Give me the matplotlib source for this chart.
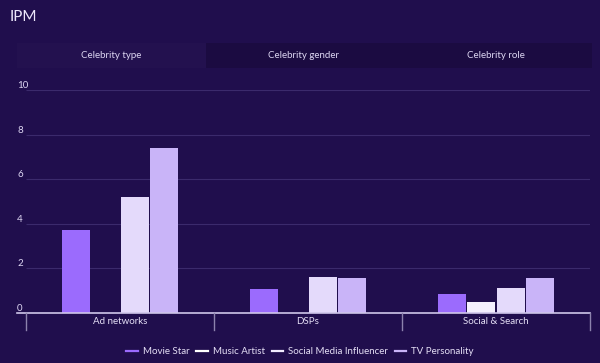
import matplotlib.pyplot as plt
import matplotlib.patches as patches
from matplotlib.lines import Line2D
import numpy as np

plt.rcParams['font.family'] = ['Lato', 'DejaVu Sans']

# Data
channels = ['Ad networks', 'DSPs', 'Social & Search']
series_names = ['Movie Star', 'Music Artist', 'Social Media Influencer', 'TV Personality']
movie_star = [3.7, 1.08, 0.85]
music_artist = [0, 0, 0.5]
social_influencer = [5.18, 1.62, 1.12]
tv_personality = [7.38, 1.58, 1.55]
y_ticks = [0, 2, 4, 6, 8, 10]
tabs = ['Celebrity type', 'Celebrity gender', 'Celebrity role']

bar_colors = ['#9b6bfd', '#f4effe', '#e4dafb', '#c9b4f8']
legend_colors = ['#9b6bfd', '#ffffff', '#f1ecfd', '#c9b4f8']
bg = '#200e4d'

fig = plt.figure(figsize=(6, 3.63), dpi=100, facecolor=bg)

# Title
fig.text(10 / 600, 1 - 17 / 363, 'IPM', color='#ece6fb', fontsize=11, va='center', ha='left')

# Tabs bar
tab_edges = [17, 206, 400, 592]
tab_colors = ['#23114f', '#1b0b41', '#1b0b41']
for i, name in enumerate(tabs):
    x0 = tab_edges[i] / 600
    w = (tab_edges[i + 1] - tab_edges[i]) / 600
    fig.patches.append(patches.Rectangle((x0, 1 - 68 / 363), w, 25 / 363,
                                         transform=fig.transFigure, facecolor=tab_colors[i],
                                         edgecolor='none', zorder=0))
    fig.text(x0 + w / 2, 1 - 55 / 363, name, color='#ddd6f2', fontsize=7,
             ha='center', va='center')

ax = fig.add_axes([17 / 600, 1 - 313 / 363, 573 / 600, 223 / 363])
ax.set_facecolor(bg)

x = np.arange(len(channels))
values = [movie_star, music_artist, social_influencer, tv_personality]
bw = 0.155
for i, vals in enumerate(values):
    ax.bar(x + (i - 1.5) * bw, vals, width=bw * 0.96, color=bar_colors[i], zorder=2)

ax.set_xlim(-0.548, 2.5)
ax.set_ylim(0, 10)

# gridlines and y labels
for v in y_ticks[1:]:
    ax.hlines(v, -0.5, 2.5, color='#3b2a6c', lw=0.8, zorder=1)
for v in y_ticks:
    ax.text(0, v, str(v), transform=ax.get_yaxis_transform(), ha='left', va='bottom',
            color='#ddd6f2', fontsize=7)

ax.axhline(0, color='#cfc6ea', lw=1.2, zorder=3, clip_on=False)

for s in ax.spines.values():
    s.set_visible(False)
ax.set_yticks([])
ax.set_xticks([])

# category dividers and labels
for d in np.arange(-0.5, 3.0, 1.0):
    ax.plot([d, d], [0, -0.75], color='#8c82ad', lw=1, clip_on=False, zorder=3)
for xi, name in zip(x, channels):
    ax.text(xi, -0.4, name, ha='center', va='center', color='#e4def5', fontsize=7,
            clip_on=False)

# legend
handles = [Line2D([0], [0], color=c, lw=1.6) for c in legend_colors]
leg = fig.legend(handles, series_names, loc='center', bbox_to_anchor=(0.5, 1 - 352 / 363),
                 ncol=4, frameon=False, fontsize=7, handlelength=1.2, handletextpad=0.5,
                 columnspacing=0.7, labelcolor='#e4def5')

plt.savefig('out.png', dpi=100, facecolor=bg)
